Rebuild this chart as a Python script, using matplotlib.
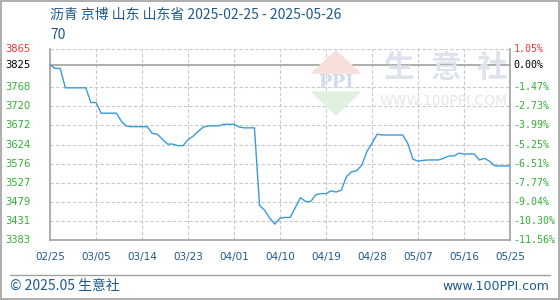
import numpy as np
import matplotlib
matplotlib.use("Agg")
import matplotlib.pyplot as plt
from matplotlib.patches import Polygon, Rectangle
from matplotlib.lines import Line2D

plt.rcParams['font.family'] = ['Noto Sans CJK SC', 'DejaVu Sans']

# ----------------------------------------------------
# data (daily price, 2025-02-25 .. 2025-05-26)
# ----------------------------------------------------
prices = [
    3825, 3816, 3816, 3767, 3767, 3767, 3767, 3767, 3730, 3730,
    3703, 3703, 3703, 3703, 3682, 3670, 3669, 3669, 3669, 3669,
    3652, 3650, 3637, 3625, 3625, 3621, 3621, 3636, 3645, 3657,
    3668, 3671, 3671, 3671, 3675, 3675, 3675, 3668, 3666, 3666,
    3666, 3470, 3458, 3438, 3423, 3438, 3440, 3440, 3465, 3490,
    3480, 3480, 3497, 3500, 3500, 3507, 3504, 3509, 3543, 3555,
    3558, 3572, 3606, 3627, 3650, 3648, 3648, 3648, 3648, 3648,
    3627, 3587, 3582, 3584, 3585, 3585, 3585, 3589, 3595, 3595,
    3602, 3600, 3600, 3600, 3585, 3589, 3582, 3570, 3570, 3570,
    3570,
]
x_labels = ["02/25", "03/05", "03/14", "03/23", "04/01", "04/10",
            "04/19", "04/28", "05/07", "05/16", "05/25"]
y_ticks = [3383, 3431, 3479, 3527, 3576, 3624, 3672, 3720, 3768, 3825, 3865]
pct_labels = ["-11.56%", "-10.30%", "-9.04%", "-7.77%", "-6.51%", "-5.25%",
              "-3.99%", "-2.73%", "-1.47%", "0.00%", "1.05%"]
base_price = 3825
title = "沥青 京博 山东 山东省 2025-02-25 - 2025-05-26"

W, H = 560, 300
fig = plt.figure(figsize=(W / 100, H / 100), dpi=100)

def fx(px):
    return px / W

def fy(py):
    return 1 - py / H

# outer border
fig.patches.append(Rectangle((0.001, 0.002), 0.997, 0.995, transform=fig.transFigure,
                             fill=False, edgecolor="#a0a0a0", lw=1.2))

ax = fig.add_axes([fx(50), fy(240), fx(460), (240 - 49) / H])
ax.set_xlim(0, 90)
ax.set_ylim(3383, 3865)

# grid lines
ymin, ymax = 3383, 3865
grid_vals = [ymin + (ymax - ymin) * k / 10 for k in range(11)]
for g in grid_vals:
    if abs(g - 3816.8) < 1:
        continue
    ax.axhline(g, color="#c8c8c8", lw=0.8, ls=(0, (3, 2)), zorder=1)
tick_pos = np.arange(0, 91, 9)
for t in tick_pos[1:-1]:
    ax.axvline(t, color="#c8c8c8", lw=0.8, ls=(0, (3, 2)), zorder=1)
ax.axhline(base_price, color="#a0a0a0", lw=1.2, zorder=2)

for s in ["left", "bottom", "right"]:
    ax.spines[s].set_color("#a0a0a0")
    ax.spines[s].set_linewidth(1.2)
ax.spines["top"].set_visible(False)
ax.set_xticks([])
ax.set_yticks([])
ax.patch.set_alpha(0)

# watermark
wm = "#dde2ec"
fig.patches.append(Polygon([[fx(312), fy(73)], [fx(360), fy(73)], [fx(336), fy(51)]],
                           closed=True, transform=fig.transFigure, color="#f7e0dc", zorder=0))
fig.patches.append(Polygon([[fx(312), fy(92)], [fx(360), fy(92)], [fx(336), fy(115)]],
                           closed=True, transform=fig.transFigure, color="#e0f1e0", zorder=0))
fig.text(fx(336), fy(83), "PPI", ha="center", va="center", fontsize=13,
         fontweight="bold", color="#d3d9e8", family="DejaVu Serif", zorder=0)
for cx, ch in zip([398, 446, 492], "生意社"):
    fig.text(fx(cx), fy(68), ch, ha="center", va="center", fontsize=22,
             fontweight="bold", color=wm, zorder=0)
fig.text(fx(444), fy(101), "WWW.100PPI.COM", ha="center", va="center",
         fontsize=10, color="#e6e6e6", family="DejaVu Sans", zorder=0)

# price line
days = np.arange(len(prices))
ax.plot(days, prices, color="#3a9ad9", lw=1.0, zorder=3)

# x labels
for t, lab in zip(tick_pos, x_labels):
    ax.text(t, -0.09, lab, transform=ax.get_xaxis_transform(), ha="center",
            va="center", fontsize=7.5, color="#1e5a8c", family="DejaVu Sans")

# y labels (left prices, right percentages)
for v, p in zip(y_ticks, pct_labels):
    if v == 3865:
        c = "#ff3333"
    elif v == base_price:
        c = "black"
    else:
        c = "#33b033"
    ax.text(-0.098, v, str(v), transform=ax.get_yaxis_transform(), ha="left",
            va="center", fontsize=7.2, color=c, family="DejaVu Sans")
    ax.text(1.008, v, p, transform=ax.get_yaxis_transform(), ha="left",
            va="center", fontsize=7.2, color=c, family="DejaVu Sans Mono")

# title
fig.text(fx(50), fy(15), title, ha="left", va="center", fontsize=10, color="#1e5a8c")
fig.text(fx(50), fy(35), "70", ha="left", va="center", fontsize=10, color="#1e5a8c")

# footer
fig.add_artist(Line2D([fx(10), fx(550)], [fy(275), fy(275)], transform=fig.transFigure,
                      color="#a0a0a0", lw=1.0))
fig.text(fx(10), fy(286), "© 2025.05 生意社", ha="left", va="center", fontsize=10,
         color="#1e5a8c")
fig.text(fx(549), fy(286), "www.100PPI.com", ha="right", va="center", fontsize=9,
         color="#1e5a8c", family="DejaVu Sans")

fig.savefig("out.png", dpi=100)
